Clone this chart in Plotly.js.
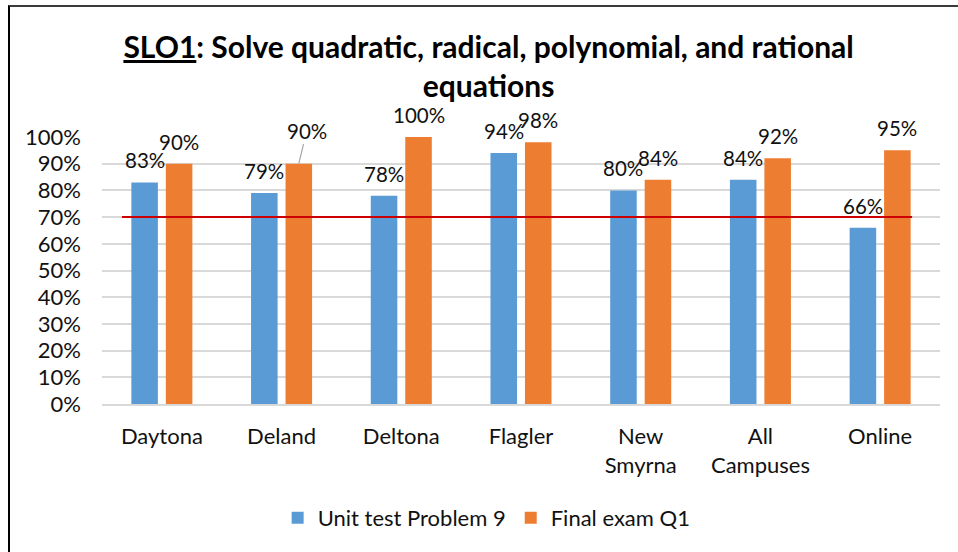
<!DOCTYPE html>
<html>
<head>
<meta charset="utf-8">
<script src="https://cdn.plot.ly/plotly-3.0.1.min.js"></script>
<style>
  html, body { margin: 0; padding: 0; background: #fff; }
  #wrap { position: relative; width: 958px; height: 552px; overflow: hidden; }
  #chart { position: absolute; left: 0; top: 0; width: 958px; height: 552px; }
  #frame { position: absolute; left: 8px; top: 5px; width: 960px; height: 560px;
           border-top: 2px solid #3a3a3a; border-left: 2px solid #000; pointer-events: none; }
</style>
</head>
<body>
<div id="wrap"><div id="chart"></div><div id="frame"></div></div>
<script>
// ---- data ----
const categories = ['Daytona', 'Deland', 'Deltona', 'Flagler', 'New<br>Smyrna', 'All<br>Campuses', 'Online'];
const unitTest   = [0.83, 0.79, 0.78, 0.94, 0.80, 0.84, 0.66];
const finalExam  = [0.90, 0.90, 1.00, 0.98, 0.84, 0.92, 0.95];
const seriesNames = ['Unit test Problem 9', 'Final exam Q1'];
const target = 0.70;

// ---- style ----
const FONT = "Lato, 'Open Sans', 'DejaVu Sans', sans-serif";
const BLUE = '#5B9BD5', ORANGE = '#ED7D31';
const BARGAP = 0.424, BARGROUPGAP = 0.23;
const off = (1 - BARGAP) / 4;
const LABEL_FONT = { family: FONT, size: 20.5, color: '#111' };

const traces = [
  { type: 'bar', name: seriesNames[0], x: categories, y: unitTest, marker: { color: BLUE }, hoverinfo: 'skip' },
  { type: 'bar', name: seriesNames[1], x: categories, y: finalExam, marker: { color: ORANGE }, hoverinfo: 'skip' }
];

const fmt = v => Math.round(v * 100) + '%';
const annotations = [];
unitTest.forEach((v, i) => {
  annotations.push({ x: i - off, y: v, xref: 'x', yref: 'y', text: fmt(v), showarrow: false,
    yanchor: 'middle', xanchor: 'center', yshift: 22, font: LABEL_FONT });
});
finalExam.forEach((v, i) => {
  if (i === 1) {
    annotations.push({ x: i + off, y: v, xref: 'x', yref: 'y', text: fmt(v), showarrow: true,
      arrowhead: 0, arrowwidth: 1.2, arrowcolor: '#a6a6a6', ax: 8, ay: -33, standoff: 0,
      font: LABEL_FONT });
  } else {
    annotations.push({ x: i + off, y: v, xref: 'x', yref: 'y', text: fmt(v), showarrow: false,
      yanchor: 'middle', xanchor: 'center', yshift: 22, font: LABEL_FONT });
  }
});

const layout = {
  width: 958, height: 552,
  margin: { l: 102, r: 18, t: 137, b: 148 },
  paper_bgcolor: '#fff', plot_bgcolor: '#fff',
  font: { family: FONT, size: 22, color: '#111' },
  title: {
    text: '<u>SLO1</u>: Solve quadratic, radical, polynomial, and rational<br>equations',
    font: { family: FONT, size: 30, color: '#000', weight: 'bold' },
    xref: 'container', x: 0.51, xanchor: 'center',
    yref: 'container', y: 1 - 58 / 552, yanchor: 'top'
  },
  barmode: 'group', bargap: BARGAP, bargroupgap: BARGROUPGAP,
  xaxis: {
    type: 'category', showgrid: false, showline: true, linecolor: '#d9d9d9', linewidth: 2,
    ticks: '', ticklabelstandoff: 12, tickfont: { family: FONT, size: 22, color: '#111' }, fixedrange: true
  },
  yaxis: {
    range: [0, 1], dtick: 0.1, tickformat: '.0%', showgrid: true, gridcolor: '#d9d9d9', gridwidth: 2,
    zeroline: false, showline: false, ticks: '', ticklabelstandoff: 20,
    tickfont: { family: FONT, size: 22, color: '#111' }, fixedrange: true
  },
  shapes: [
    { type: 'line', xref: 'x', yref: 'y', x0: -0.333, x1: categories.length - 1 + 0.267, y0: target, y1: target,
      line: { color: '#cc0000', width: 2 }, layer: 'above' }
  ],
  annotations: annotations,
  showlegend: true,
  legend: {
    orientation: 'h', x: 0.459, xanchor: 'center', y: -0.427, yanchor: 'middle',
    font: { family: FONT, size: 22, color: '#111' }, itemwidth: 30, traceorder: 'normal'
  }
};

Plotly.newPlot('chart', traces, layout, { displayModeBar: false, staticPlot: true });
</script>
</body>
</html>
